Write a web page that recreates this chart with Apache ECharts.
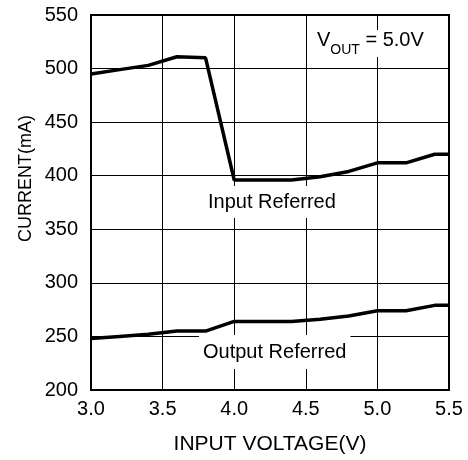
<!DOCTYPE html>
<html><head><meta charset="utf-8">
<script src="https://cdn.jsdelivr.net/npm/echarts@6/dist/echarts.min.js"></script>
<style>html,body{margin:0;padding:0;background:#fff}#c{width:468px;height:460px}</style>
</head><body><div id="c"></div>
<script>
var voltage = [3.0, 3.2, 3.4, 3.6, 3.8, 4.0, 4.2, 4.4, 4.6, 4.8, 5.0, 5.2, 5.4, 5.5];
var inputReferred = [495, 499, 503, 511, 510, 396, 396, 396, 399, 404, 412, 412, 420, 420];
var outputReferred = [248, 250, 252, 255, 255, 264, 264, 264, 266, 269, 274, 274, 279, 279];
var xTicks = ['3.0', '3.5', '4.0', '4.5', '5.0', '5.5'];

var FONT = 'Liberation Sans, Arial, sans-serif';
function pairs(xs, ys){ return xs.map(function(x,i){ return [x, ys[i]]; }); }

var chart = echarts.init(document.getElementById('c'));
chart.setOption({
  animation: false,
  backgroundColor: '#fff',
  grid: {left: 91, right: 19, top: 15, bottom: 67, show: true, borderColor: '#000', borderWidth: 2},
  xAxis: {
    type: 'value', min: 3, max: 5.5, interval: 0.5,
    name: 'INPUT VOLTAGE(V)', nameLocation: 'middle', nameGap: 44,
    nameTextStyle: {fontFamily: FONT, fontSize: 21, color: '#000'},
    axisLine: {show: true, lineStyle: {color: '#000', width: 2}},
    axisTick: {show: false},
    axisLabel: {fontFamily: FONT, fontSize: 20, color: '#000', margin: 9,
      formatter: function(v){ return v.toFixed(1); }},
    splitLine: {show: true, lineStyle: {color: '#000', width: 1}}
  },
  yAxis: {
    type: 'value', min: 200, max: 550, interval: 50,
    axisLine: {show: true, lineStyle: {color: '#000', width: 2}},
    axisTick: {show: false},
    axisLabel: {fontFamily: FONT, fontSize: 20, color: '#000', margin: 13},
    splitLine: {show: true, lineStyle: {color: '#000', width: 1}}
  },
  series: [
    {type: 'line', data: pairs(voltage, inputReferred), symbol: 'none', z: 3,
     lineStyle: {color: '#000', width: 3.5}},
    {type: 'line', data: pairs(voltage, outputReferred), symbol: 'none', z: 3,
     lineStyle: {color: '#000', width: 3.5}}
  ],
  graphic: [
    {type: 'text', left: 17, top: 115, rotation: Math.PI/2, z: 10,
     style: {text: 'CURRENT(mA)', fontFamily: FONT, fontSize: 18, fill: '#000'}},
    {type: 'text', left: 204, top: 186, z: 10,
     style: {text: 'Input Referred', fontFamily: FONT, fontSize: 20, fill: '#000',
       backgroundColor: '#fff', padding: [6, 4, 6, 4]}},
    {type: 'text', left: 199, top: 335, z: 10,
     style: {text: 'Output Referred', fontFamily: FONT, fontSize: 20, fill: '#000',
       backgroundColor: '#fff', padding: [7, 4, 7, 4]}},
    {type: 'text', left: 312, top: 30, z: 10,
     style: {text: '{v|V}{s|OUT}{v| = 5.0V}', fontFamily: FONT, fill: '#000',
       backgroundColor: '#fff', padding: [0, 5, 0, 5],
       rich: {v: {fontFamily: FONT, fontSize: 20, fill: '#000', verticalAlign: 'top', lineHeight: 22},
              s: {fontFamily: FONT, fontSize: 14, fill: '#000', verticalAlign: 'bottom', lineHeight: 27}}}}
  ]
});
</script></body></html>
